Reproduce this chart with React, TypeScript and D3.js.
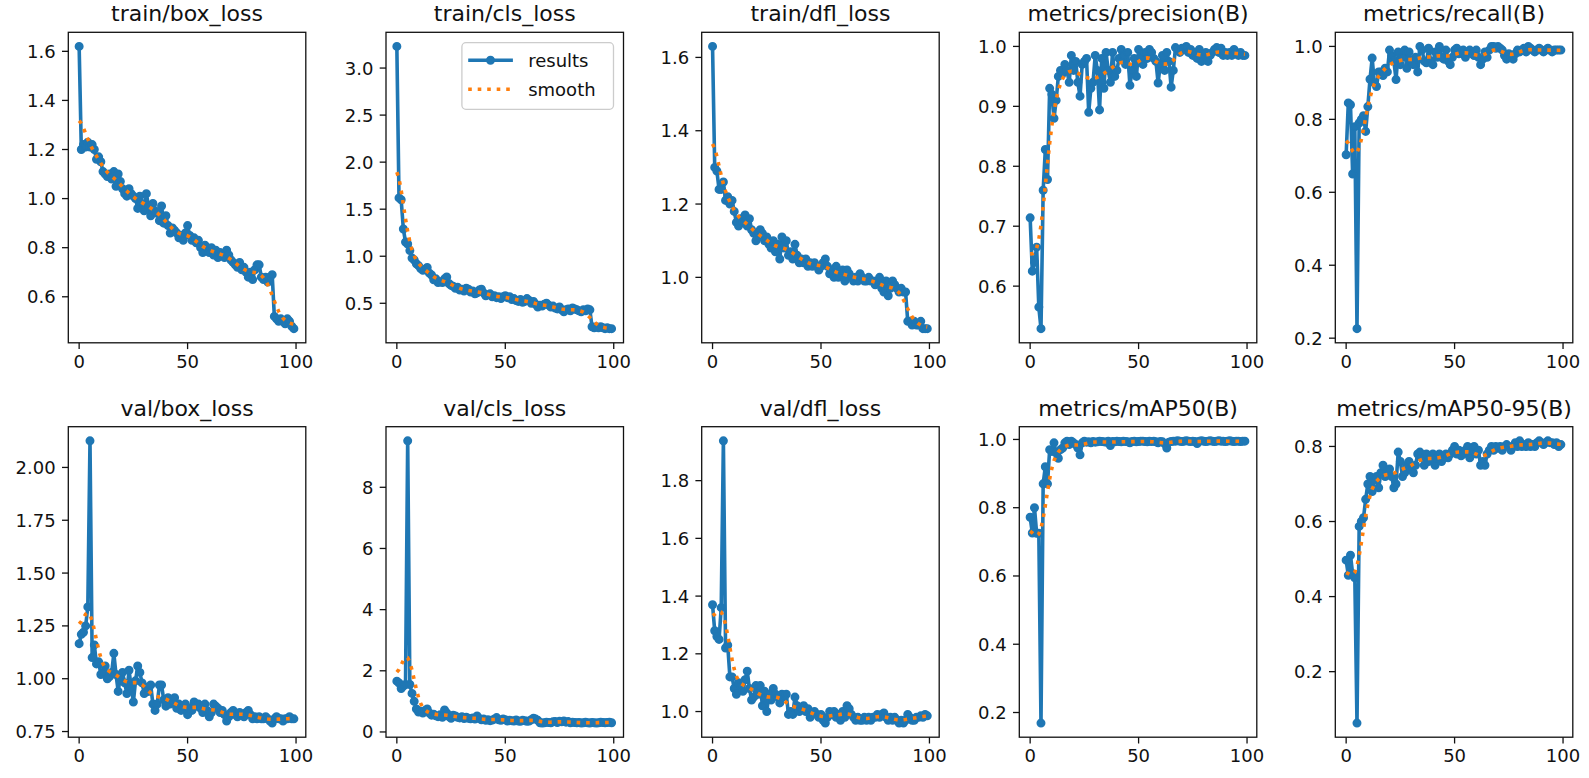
import * as d3 from "d3";

const W = 1589;
const H = 778;

const epochs = d3.range(0, 100);

const titles = [
  "train/box_loss",
  "train/cls_loss",
  "train/dfl_loss",
  "metrics/precision(B)",
  "metrics/recall(B)",
  "val/box_loss",
  "val/cls_loss",
  "val/dfl_loss",
  "metrics/mAP50(B)",
  "metrics/mAP50-95(B)",
];

const trainBox = [
  1.62, 1.2, 1.22, 1.21, 1.23, 1.21, 1.22, 1.2, 1.16, 1.17,
  1.15, 1.11, 1.1, 1.09, 1.1, 1.08, 1.11, 1.05, 1.1, 1.07,
  1.04, 1.02, 1.01, 1.04, 1.02, 1.01, 1.0, 0.96, 1.01, 0.98,
  0.95, 1.02, 0.97, 0.93, 0.98, 0.95, 0.94, 0.91, 0.97, 0.9,
  0.93, 0.89, 0.86, 0.88, 0.87, 0.86, 0.84, 0.85, 0.83, 0.86,
  0.89, 0.85, 0.83, 0.84, 0.82, 0.83, 0.8, 0.78, 0.81, 0.8,
  0.78, 0.8, 0.77, 0.79, 0.76, 0.78, 0.77, 0.76, 0.79, 0.77,
  0.75, 0.74, 0.73, 0.72, 0.74, 0.71, 0.72, 0.7, 0.68, 0.7,
  0.67, 0.71, 0.73, 0.73, 0.68, 0.67, 0.68, 0.66, 0.68, 0.69,
  0.52, 0.51, 0.5, 0.51, 0.5, 0.49, 0.51, 0.5, 0.48, 0.47,
];

const trainCls = [
  3.23, 1.62, 1.6, 1.29, 1.15, 1.13, 1.06, 0.98, 0.96, 0.92,
  0.9, 0.87, 0.85, 0.86, 0.88, 0.82, 0.8, 0.75, 0.76, 0.72,
  0.73, 0.72, 0.76, 0.78, 0.71, 0.69, 0.68, 0.66, 0.67, 0.64,
  0.65, 0.63, 0.66, 0.65, 0.62, 0.63, 0.6, 0.61, 0.64, 0.65,
  0.61, 0.58, 0.59, 0.6, 0.57, 0.58, 0.56, 0.57, 0.55, 0.57,
  0.58, 0.56, 0.57, 0.54, 0.55, 0.53, 0.52, 0.54, 0.51, 0.52,
  0.55, 0.53, 0.5, 0.52, 0.49, 0.46, 0.48, 0.47, 0.49, 0.5,
  0.48, 0.46, 0.47, 0.45, 0.44, 0.46, 0.43, 0.41, 0.43, 0.44,
  0.42, 0.45, 0.44, 0.43, 0.42, 0.41, 0.43, 0.42, 0.44, 0.43,
  0.25, 0.24, 0.25, 0.24, 0.25, 0.24, 0.23, 0.24, 0.23, 0.23,
];

const trainDfl = [
  1.63, 1.3, 1.29, 1.24, 1.24, 1.26, 1.21, 1.22, 1.2, 1.21,
  1.18, 1.15, 1.14, 1.16, 1.15, 1.17, 1.14, 1.16, 1.13, 1.12,
  1.1, 1.11, 1.13, 1.12, 1.1, 1.11, 1.09, 1.08, 1.1, 1.07,
  1.09, 1.05, 1.11, 1.08, 1.1, 1.06, 1.07, 1.05, 1.09, 1.06,
  1.04, 1.05, 1.04, 1.05, 1.03, 1.04, 1.03, 1.04, 1.03, 1.02,
  1.03, 1.04, 1.05, 1.03, 1.01, 1.02, 1.0, 1.03, 1.0, 1.01,
  1.02, 0.99, 1.02, 1.01, 1.0, 0.99, 1.0, 0.99, 1.01, 1.0,
  0.99, 0.99, 1.0, 0.99, 0.99, 0.98, 0.99, 1.0, 0.97, 0.96,
  0.99, 0.95, 0.97, 0.99, 0.98, 0.97, 0.96, 0.97, 0.96, 0.96,
  0.88, 0.88, 0.87, 0.88, 0.87, 0.87, 0.88, 0.86, 0.86, 0.86,
];

const precision = [
  0.714, 0.625, 0.64, 0.665, 0.565, 0.529, 0.76, 0.828, 0.778, 0.93,
  0.92, 0.88, 0.91, 0.95, 0.96, 0.955, 0.97, 0.96, 0.94, 0.985,
  0.96, 0.975, 0.94, 0.917, 0.97, 0.975, 0.98, 0.89, 0.93, 0.94,
  0.985, 0.96, 0.894, 0.98, 0.93, 0.99, 0.96, 0.94, 0.99, 0.95,
  0.96, 0.98, 0.995, 0.985, 0.97, 0.99, 0.935, 0.96, 0.98, 0.95,
  0.995, 0.98, 0.97, 0.99, 0.98, 0.995, 0.99, 0.98, 0.975, 0.939,
  0.97, 0.985, 0.96, 0.99, 0.975, 0.932, 0.96, 0.998, 0.995, 0.99,
  0.997, 0.995, 1.0, 0.99, 0.995, 0.985, 0.99, 0.98, 0.995, 0.975,
  0.985, 0.99, 0.975, 0.985, 0.99, 0.995, 0.998, 0.99, 0.997, 0.985,
  0.99, 0.985, 0.99, 0.985, 0.995, 0.99, 0.985, 0.99, 0.985, 0.985,
];

const recall = [
  0.703, 0.845, 0.84, 0.65, 0.78, 0.226, 0.79, 0.8, 0.81, 0.767,
  0.835, 0.91, 0.968, 0.9, 0.89, 0.93, 0.93, 0.92, 0.94, 0.93,
  0.99, 0.975, 0.96, 0.909, 0.985, 0.95, 0.97, 0.99, 0.94, 0.985,
  0.96, 0.95, 0.97, 0.93, 1.0, 0.99, 0.96, 0.955, 0.995, 0.96,
  0.95, 0.985, 0.97, 1.0, 0.97, 0.965, 0.99, 0.96, 0.95, 0.97,
  0.99, 0.995, 0.98, 0.985, 0.99, 0.97, 0.985, 0.99, 0.98, 0.975,
  0.99, 0.97, 0.95, 0.965, 0.985, 0.97, 0.99, 1.0, 1.0, 0.995,
  1.0, 0.995, 0.99, 0.975, 0.965, 0.98, 0.97, 0.965, 0.98, 0.99,
  0.985, 0.99, 0.995, 0.985, 1.0, 0.995, 0.99, 0.985, 0.99, 0.995,
  0.99, 0.985, 0.99, 0.995, 0.99, 0.985, 0.99, 0.99, 0.99, 0.99,
];

const valBox = [
  1.166, 1.21, 1.22, 1.25, 1.34, 2.126, 1.1, 1.16, 1.07, 1.08,
  1.02, 1.03, 1.06, 1.0, 1.01, 1.03, 1.12, 1.02, 0.94, 1.01,
  1.03, 0.98, 0.93, 1.04, 0.96, 0.89, 0.99, 1.06, 1.03, 0.98,
  0.93, 0.96, 0.94, 0.97, 0.88, 0.85, 0.88, 0.97, 0.97, 0.9,
  0.87, 0.91, 0.88, 0.89, 0.91, 0.86, 0.88, 0.85, 0.87, 0.88,
  0.83, 0.86, 0.85, 0.89, 0.87, 0.88, 0.86, 0.84, 0.88, 0.85,
  0.82, 0.84, 0.88, 0.87, 0.86, 0.84, 0.85, 0.83, 0.8, 0.82,
  0.84, 0.85, 0.83, 0.82, 0.84, 0.83, 0.82, 0.84, 0.85, 0.83,
  0.81, 0.82, 0.81, 0.82, 0.81, 0.81, 0.82, 0.81, 0.8, 0.79,
  0.81, 0.82, 0.81, 0.81, 0.8, 0.81, 0.81, 0.82, 0.81, 0.81,
];

const valCls = [
  1.66, 1.6, 1.42, 1.5, 1.55, 9.52, 1.55, 1.26, 1.0, 0.75,
  0.65, 0.68, 0.62, 0.7, 0.75, 0.62, 0.55, 0.58, 0.53, 0.5,
  0.56, 0.48, 0.72, 0.62, 0.5, 0.45, 0.55, 0.52, 0.48, 0.46,
  0.5, 0.44, 0.48, 0.45, 0.43, 0.46, 0.42, 0.52, 0.44, 0.4,
  0.42, 0.38, 0.4, 0.37, 0.39, 0.42, 0.47, 0.4, 0.38, 0.42,
  0.4, 0.36, 0.38, 0.37, 0.36, 0.39, 0.36, 0.35, 0.38, 0.37,
  0.35, 0.36, 0.4, 0.45, 0.42, 0.38, 0.3, 0.29, 0.3, 0.32,
  0.31, 0.3, 0.33, 0.34, 0.31, 0.35, 0.33, 0.36, 0.32, 0.34,
  0.3, 0.32, 0.31, 0.3, 0.31, 0.29, 0.3, 0.32, 0.3, 0.29,
  0.31, 0.3, 0.29, 0.3, 0.32, 0.31, 0.3, 0.31, 0.32, 0.3,
];

const valDfl = [
  1.37, 1.28, 1.26, 1.25, 1.36, 1.938, 1.22, 1.23, 1.12, 1.12,
  1.08, 1.06, 1.1, 1.09, 1.07, 1.11, 1.14, 1.08, 1.04, 1.05,
  1.09, 1.06, 1.09, 1.02, 1.07, 1.0, 1.06, 1.04, 1.08, 1.06,
  1.05, 1.03, 1.06, 1.05, 1.06, 0.99, 1.0, 0.99, 1.05, 1.02,
  1.0, 1.01, 1.02, 1.0, 1.01, 0.98, 0.99, 1.0, 0.99, 0.98,
  0.99, 0.97, 0.96, 0.98, 1.0, 0.99, 1.0, 0.98, 0.99, 0.97,
  1.0, 0.98, 1.02, 1.01, 0.99, 0.98, 0.97, 0.98, 0.97, 0.97,
  0.98, 0.97, 0.98, 0.97, 0.98, 0.98, 0.99, 0.98, 0.99, 0.995,
  0.98, 0.97, 0.98, 0.97, 0.98, 0.97, 0.96, 0.97, 0.96, 0.97,
  0.99, 0.98, 0.97, 0.97, 0.98, 0.98, 0.985, 0.98, 0.99, 0.985,
];

const mAP50 = [
  0.772, 0.726, 0.8, 0.725, 0.725, 0.169, 0.87, 0.92, 0.87, 0.97,
  0.965, 0.99, 0.96, 0.945, 0.97, 0.975, 0.99, 0.995, 0.985, 0.995,
  0.99, 0.985, 0.975, 0.955, 0.99, 0.995, 0.992, 0.993, 0.99, 0.994,
  0.992, 0.993, 0.995, 0.994, 0.993, 0.992, 0.995, 0.982, 0.994, 0.993,
  0.995, 0.994, 0.993, 0.995, 0.994, 0.993, 0.99, 0.994, 0.995, 0.993,
  0.994, 0.995, 0.995, 0.994, 0.993, 0.995, 0.994, 0.995, 0.993, 0.99,
  0.994, 0.993, 0.988, 0.975, 0.992, 0.994, 0.995, 0.995, 0.996, 0.995,
  0.994, 0.995, 0.996, 0.995, 0.994, 0.995, 0.994, 0.988, 0.995, 0.996,
  0.995, 0.994, 0.995, 0.996, 0.995, 0.994, 0.995, 0.996, 0.995, 0.995,
  0.994, 0.995, 0.996, 0.995, 0.994, 0.995, 0.995, 0.994, 0.995, 0.995,
];

const mAP5095 = [
  0.497, 0.457, 0.51, 0.46, 0.45, 0.063, 0.587, 0.6, 0.61, 0.659,
  0.7, 0.72, 0.68, 0.71, 0.72, 0.69, 0.73, 0.75, 0.72, 0.73,
  0.74, 0.72, 0.69, 0.7, 0.785, 0.76, 0.72, 0.73, 0.75, 0.76,
  0.74, 0.73, 0.75, 0.78, 0.785, 0.77, 0.75, 0.78, 0.76, 0.77,
  0.78, 0.75, 0.77, 0.78, 0.76, 0.77, 0.78, 0.77, 0.78, 0.79,
  0.8, 0.78, 0.79, 0.775, 0.78, 0.79, 0.8, 0.77, 0.79, 0.8,
  0.78, 0.79, 0.75, 0.76, 0.75, 0.78, 0.79, 0.8, 0.79, 0.8,
  0.795, 0.8, 0.79, 0.8, 0.805, 0.8, 0.79, 0.8, 0.81, 0.8,
  0.815, 0.8, 0.805, 0.8, 0.81, 0.8, 0.805, 0.8, 0.81, 0.815,
  0.81, 0.805, 0.81, 0.815, 0.81, 0.81, 0.805, 0.81, 0.8, 0.805,
];

const series = [trainBox, trainCls, trainDfl, precision, recall, valBox, valCls, valDfl, mAP50, mAP5095];

const yTicks = [
  [0.6, 0.8, 1.0, 1.2, 1.4, 1.6],
  [0.5, 1.0, 1.5, 2.0, 2.5, 3.0],
  [1.0, 1.2, 1.4, 1.6],
  [0.6, 0.7, 0.8, 0.9, 1.0],
  [0.2, 0.4, 0.6, 0.8, 1.0],
  [0.75, 1.0, 1.25, 1.5, 1.75, 2.0],
  [0, 2, 4, 6, 8],
  [1.0, 1.2, 1.4, 1.6, 1.8],
  [0.2, 0.4, 0.6, 0.8, 1.0],
  [0.2, 0.4, 0.6, 0.8],
];
const yDecimals = [1, 1, 1, 1, 1, 2, 0, 1, 1, 1];
const xTicks = [0, 50, 100];

const colLeft = [68.3, 386, 701.7, 1019.3, 1335.3];
const rowTop = [32.3, 426.7];
const axW = 237.5;
const axH = 310.5;

const BLUE = "#1f77b4";
const ORANGE = "#ff7f0e";
const FONT = "DejaVu Sans, sans-serif";

// same as scipy gaussian_filter1d(y, sigma=3), reflect mode
function gaussianSmooth(y: number[], sigma = 3) {
  const r = Math.round(4 * sigma);
  const w = d3.range(-r, r + 1).map((k) => Math.exp((-0.5 * k * k) / (sigma * sigma)));
  const sum = d3.sum(w);
  const n = y.length;
  const idx = (i: number) => {
    while (i < 0 || i >= n) {
      if (i < 0) i = -i - 1;
      if (i >= n) i = 2 * n - i - 1;
    }
    return i;
  };
  return y.map((_, i) => d3.sum(w, (wk, j) => wk * y[idx(i + j - r)]) / sum);
}

function Panel({ k }: { k: number }) {
  const left = colLeft[k % 5];
  const top = rowTop[Math.floor(k / 5)];
  const ys = series[k];
  const sm = gaussianSmooth(ys);
  const [lo, hi] = d3.extent(ys) as [number, number];
  const pad = (hi - lo) * 0.05;

  const x = d3.scaleLinear().domain([-5, 104.5]).range([left, left + axW]);
  const y = d3.scaleLinear().domain([lo - pad, hi + pad]).range([top + axH, top]);

  const line = d3
    .line<number>()
    .x((_, i) => x(epochs[i]))
    .y((d) => y(d));

  const fmt = d3.format(`.${yDecimals[k]}f`);
  const tick = 6.3;

  return (
    <g>
      <text
        x={left + axW / 2}
        y={top - 11}
        textAnchor="middle"
        fontSize={22}
        fontFamily={FONT}
        fill="#111"
      >
        {titles[k]}
      </text>
      <path d={line(ys) || ""} fill="none" stroke={BLUE} strokeWidth={3.6} strokeLinejoin="round" />
      {ys.map((v, i) => (
        <circle key={i} cx={x(epochs[i])} cy={y(v)} r={3.7} fill={BLUE} stroke={BLUE} strokeWidth={1.6} />
      ))}
      <path d={line(sm) || ""} fill="none" stroke={ORANGE} strokeWidth={3.6} strokeDasharray="3.6,5.9" />
      <rect x={left} y={top} width={axW} height={axH} fill="none" stroke="#111" strokeWidth={1.3} />
      {yTicks[k].map((t) => (
        <g key={`y${t}`}>
          <line x1={left - tick} x2={left} y1={y(t)} y2={y(t)} stroke="#111" strokeWidth={1.3} />
          <text
            x={left - tick - 6.3}
            y={y(t)}
            dy="0.36em"
            textAnchor="end"
            fontSize={18}
            fontFamily={FONT}
            fill="#111"
          >
            {fmt(t)}
          </text>
        </g>
      ))}
      {xTicks.map((t) => (
        <g key={`x${t}`}>
          <line x1={x(t)} x2={x(t)} y1={top + axH} y2={top + axH + tick} stroke="#111" strokeWidth={1.3} />
          <text
            x={x(t)}
            y={top + axH + 25}
            textAnchor="middle"
            fontSize={18}
            fontFamily={FONT}
            fill="#111"
          >
            {t}
          </text>
        </g>
      ))}
      {k === 1 && <Legend right={left + axW} top={top} />}
    </g>
  );
}

function Legend({ right, top }: { right: number; top: number }) {
  const w = 151.6;
  const h = 66.6;
  const bx = right - 10 - w;
  const by = top + 10.4;
  const rows = [by + 17.5, by + 46.5];
  return (
    <g>
      <rect x={bx} y={by} width={w} height={h} rx={4} fill="white" fillOpacity={0.8} stroke="#cccccc" strokeWidth={1.3} />
      <line x1={bx + 6.3} x2={bx + 51} y1={rows[0]} y2={rows[0]} stroke={BLUE} strokeWidth={3.6} />
      <circle cx={bx + 28.6} cy={rows[0]} r={3.7} fill={BLUE} stroke={BLUE} strokeWidth={1.6} />
      <line x1={bx + 6.3} x2={bx + 51} y1={rows[1]} y2={rows[1]} stroke={ORANGE} strokeWidth={3.6} strokeDasharray="3.6,5.9" />
      {["results", "smooth"].map((s, i) => (
        <text key={s} x={bx + 66.3} y={rows[i]} dy="0.36em" fontSize={18} fontFamily={FONT} fill="#111">
          {s}
        </text>
      ))}
    </g>
  );
}

export default function App() {
  return (
    <svg
      width={W}
      height={H}
      viewBox={`0 0 ${W} ${H}`}
      style={{ position: "absolute", left: 0, top: 0, background: "white" }}
    >
      <rect width={W} height={H} fill="white" />
      {titles.map((_, k) => (
        <Panel key={k} k={k} />
      ))}
    </svg>
  );
}
